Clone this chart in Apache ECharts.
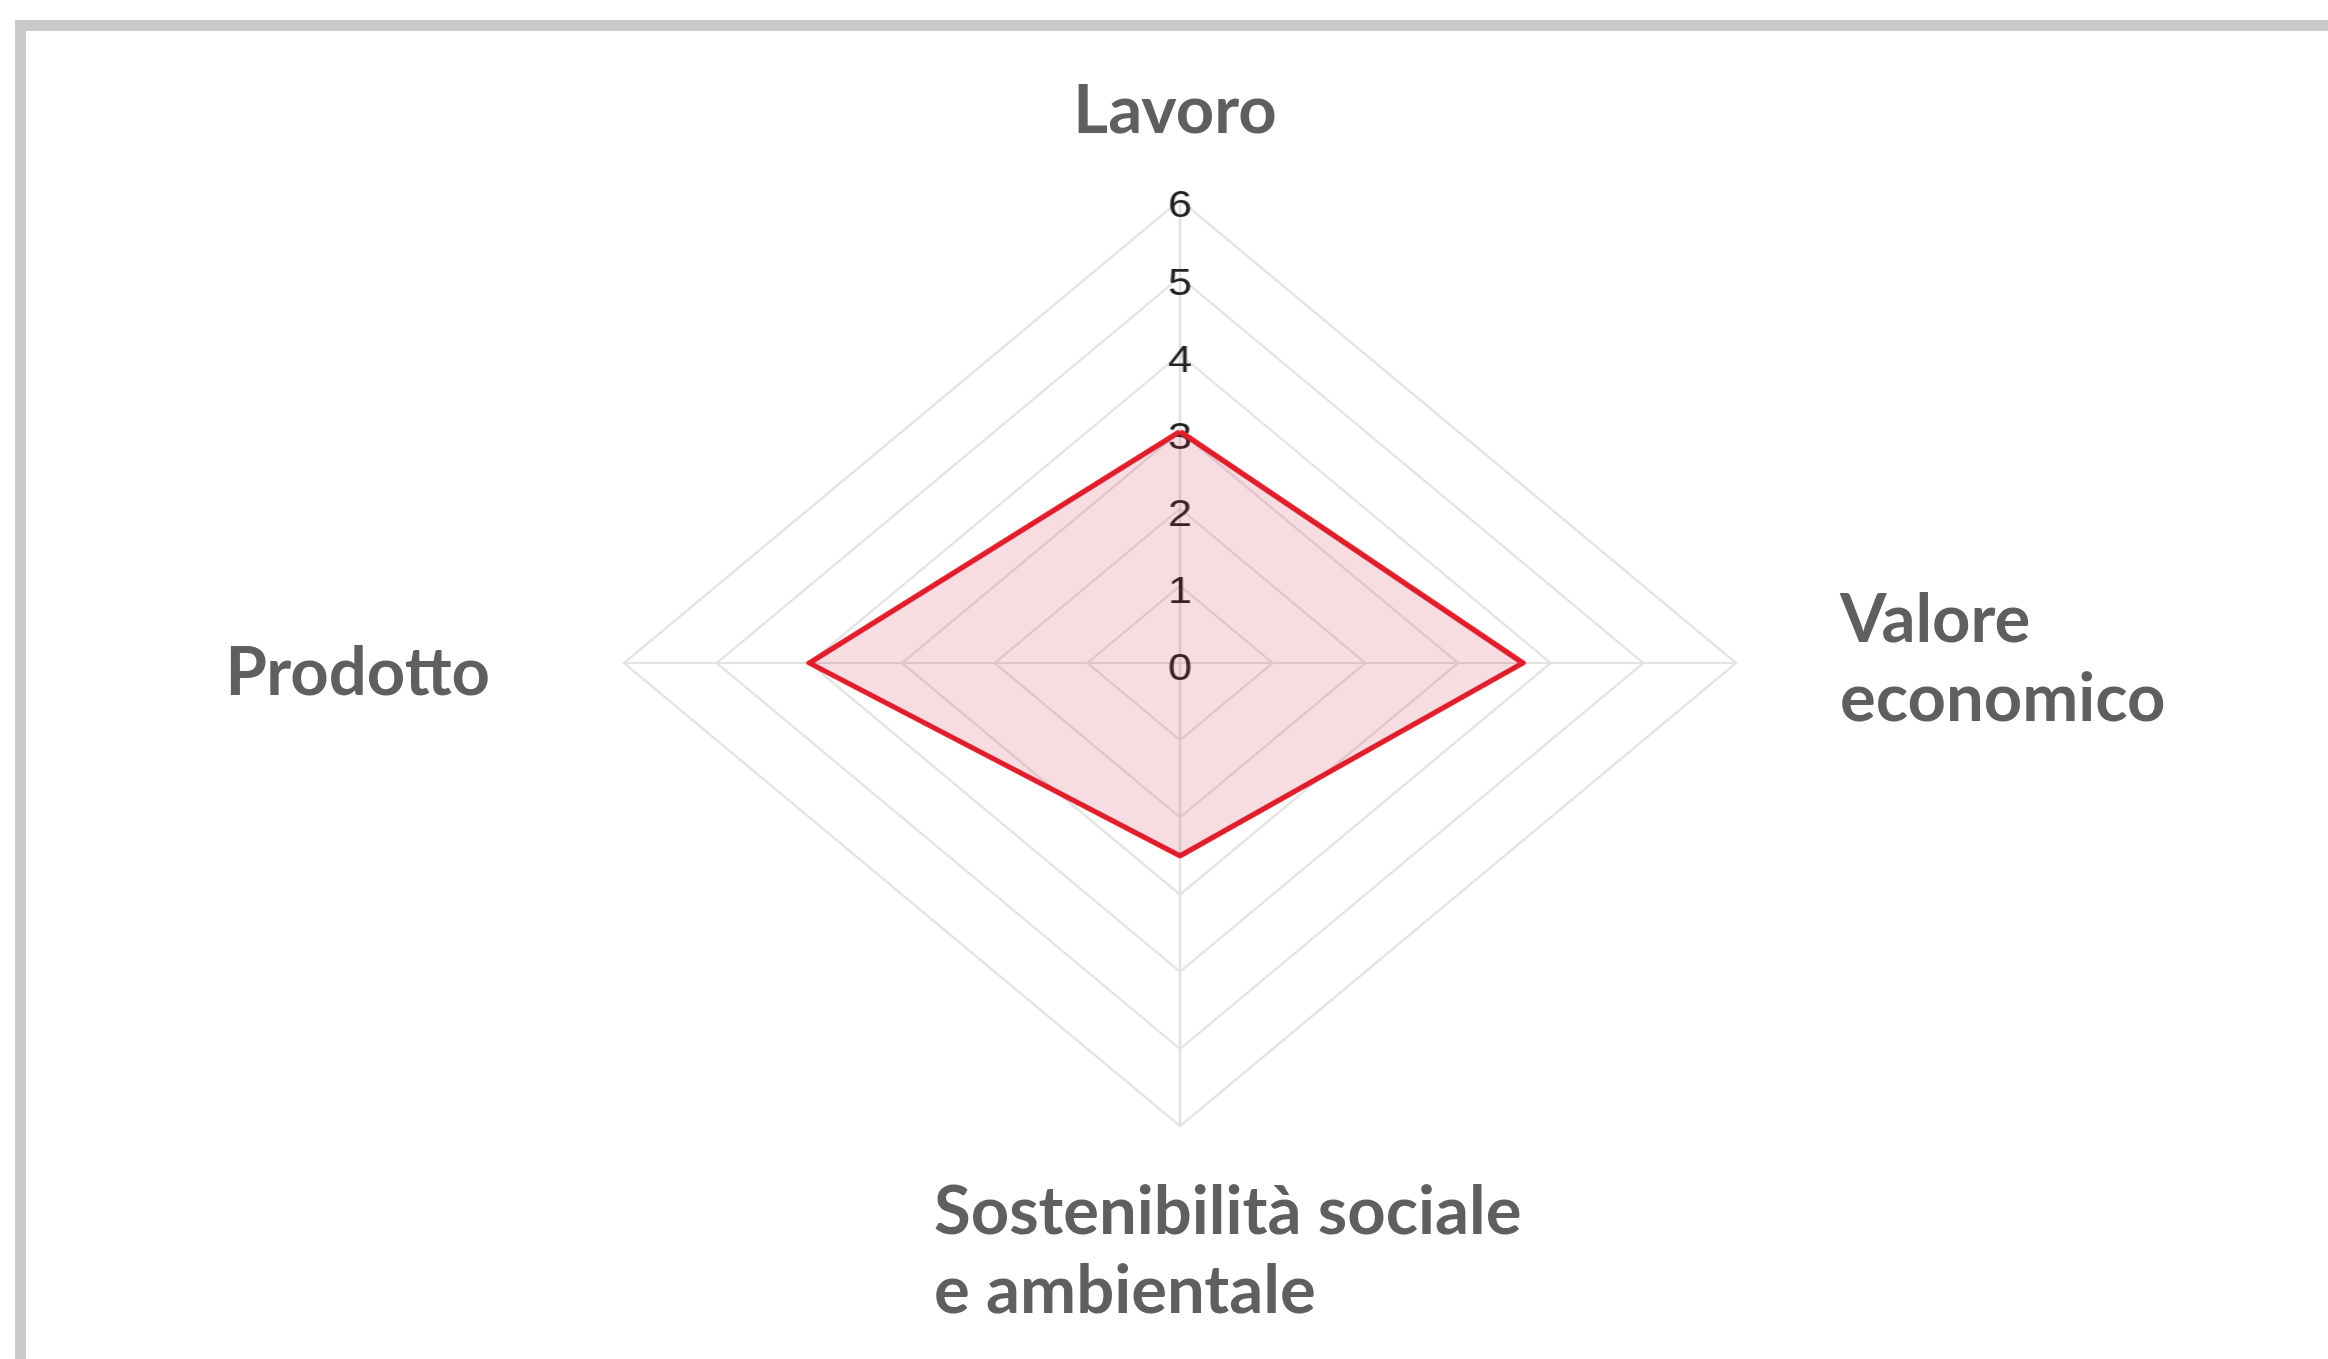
<!DOCTYPE html>
<html>
<head>
<meta charset="utf-8">
<script src="https://cdn.jsdelivr.net/npm/echarts@6/dist/echarts.min.js"></script>
<style>
  html, body { margin: 0; padding: 0; width: 2328px; height: 1359px; overflow: hidden; background: #ffffff; }
  #frame { position: absolute; left: 15px; top: 20px; width: 3000px; height: 3000px; border: 11px solid #cacaca; box-sizing: border-box; }
  #radarA { position: absolute; left: 0; top: 0; width: 2328px; height: 1359px; transform-origin: 1180px 663px; transform: scaleX(1.2009); }
  #radarB { position: absolute; left: 0; top: 0; width: 2328px; height: 1359px; }
</style>
</head>
<body>
<div id="frame"></div>
<div id="radarA"></div>
<div id="radarB"></div>
<script>
// ---- data ----
const indicatorNames = ['Lavoro', 'Prodotto', 'Sostenibilità sociale\ne ambientale', 'Valore\neconomico'];
const seriesValues = [3, 4, 2.5, 3.7];
const axisMin = 0;
const axisMax = 6;
const tickCount = 6;

const CX = 1180, CY = 663, R = 463;

const tickFont = { color: '#222222', fontSize: 36, fontFamily: 'Liberation Sans, Arial, sans-serif' };

// ---- chart A: grid, tick labels and data polygon (horizontally stretched like the reference) ----
const chartA = echarts.init(document.getElementById('radarA'), null, { renderer: 'canvas' });
chartA.setOption({
  animation: false,
  textStyle: { fontFamily: 'Liberation Sans, Arial, sans-serif' },
  radar: {
    center: [CX, CY],
    radius: R,
    startAngle: 90,
    shape: 'polygon',
    splitNumber: tickCount,
    axisName: { show: false },
    axisLine: { show: true, lineStyle: { color: '#e2e2e2', width: 2 } },
    splitLine: { show: true, lineStyle: { color: '#e2e2e2', width: 2 } },
    splitArea: { show: false },
    axisTick: { show: false },
    axisLabel: Object.assign({ show: false, margin: 0, align: 'center', verticalAlign: 'middle' }, tickFont, {
      formatter: function (v) { return '{t|' + v + '}'; },
      rich: { t: Object.assign({ align: 'center', verticalAlign: 'middle', padding: [15, 0, 0, 0] }, tickFont) }
    }),
    indicator: indicatorNames.map((n, i) => {
      const o = { name: n, min: axisMin, max: axisMax };
      if (i === 0) {
        o.axisLabel = { show: true };
      }
      return o;
    })
  },
  series: [{
    type: 'radar',
    symbol: 'none',
    lineStyle: { color: '#e21f2a', width: 5 },
    areaStyle: { color: 'rgba(205,25,65,0.22)' },
    data: [{ value: seriesValues, name: 'Valutazione' }]
  }]
});

// ---- chart B: indicator names (not stretched) ----
const baseFont = { fontFamily: 'Lato', fontWeight: 'bold', fontSize: 67, lineHeight: 79, color: '#5f5f5f' };
const chartB = echarts.init(document.getElementById('radarB'), null, { renderer: 'canvas' });
chartB.setOption({
  animation: false,
  radar: {
    center: [CX, CY],
    radius: R,
    startAngle: 90,
    shape: 'polygon',
    splitNumber: tickCount,
    nameGap: 47,
    axisLine: { show: false },
    splitLine: { show: false },
    splitArea: { show: false },
    axisTick: { show: false },
    axisLabel: { show: false },
    axisName: Object.assign({}, baseFont, {
      formatter: function (name) {
        const idx = indicatorNames.indexOf(name);
        const keys = ['top', 'left', 'bottom', 'right'];
        const k = keys[idx];
        return name.split('\n').map(line => '{' + k + '|' + line + '}').join('\n');
      },
      rich: {
        top: Object.assign({}, baseFont, { padding: [0, 10, 4, 0] }),
        left: Object.assign({}, baseFont, { padding: [20, 180, 0, 0] }),
        bottom: Object.assign({}, baseFont, { width: 492, align: 'left' }),
        right: Object.assign({}, baseFont, { padding: [0, 0, 6, 150] })
      }
    }),
    indicator: indicatorNames.map(n => ({ name: n, min: axisMin, max: axisMax }))
  }
});
</script>
</body>
</html>
